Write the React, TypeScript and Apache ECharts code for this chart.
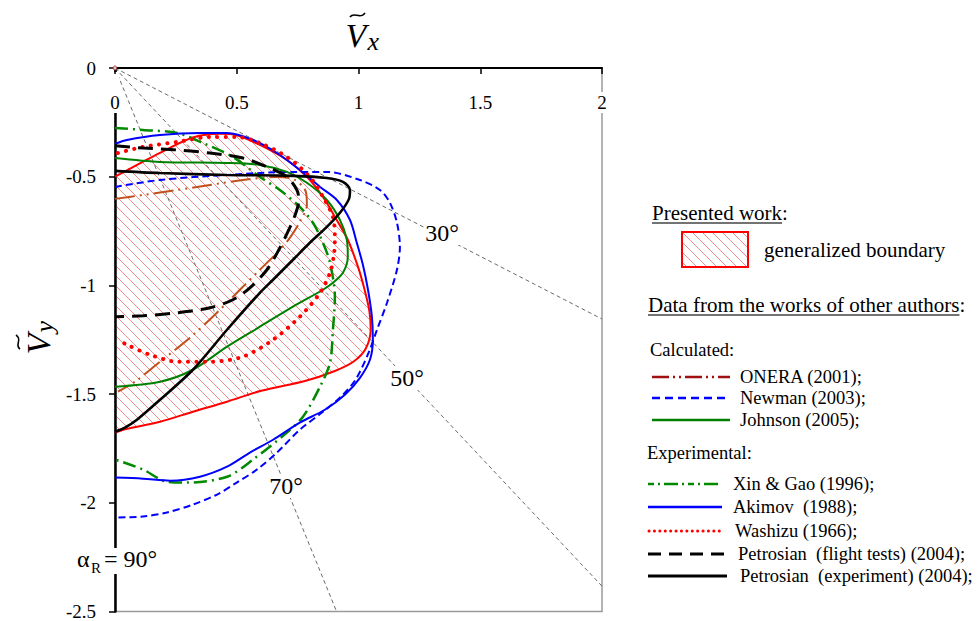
import React, { useEffect, useRef } from 'react';
import * as echarts from 'echarts';

// ---------- data ----------
const xTickValues = [0, 0.5, 1, 1.5, 2];
const yTickValues = [0, -0.5, -1, -1.5, -2, -2.5];
const rayAnglesDeg = [30, 50, 70];
const rayLabels = ['30°', '50°', '70°'];

const generalizedBoundary: number[][] = [
  [0, -0.5], [0.1, -0.44], [0.185, -0.39], [0.32, -0.32], [0.43, -0.303], [0.5, -0.31],
  [0.595, -0.354], [0.706, -0.423], [0.788, -0.5], [0.854, -0.593], [0.911, -0.7],
  [0.956, -0.79], [0.998, -0.915], [1.025, -1.02], [1.045, -1.12], [1.05, -1.2],
  [1.03, -1.29], [0.98, -1.35], [0.9, -1.395], [0.78, -1.44], [0.6, -1.485],
  [0.46, -1.535], [0.32, -1.581], [0.185, -1.627], [0.05, -1.66], [0, -1.677],
];

const onera: number[][] = [
  [0, -0.602], [0.115, -0.584], [0.255, -0.561], [0.39, -0.538], [0.525, -0.515],
  [0.665, -0.501], [0.739, -0.515], [0.784, -0.57], [0.788, -0.63], [0.759, -0.708],
  [0.718, -0.781], [0.665, -0.85], [0.595, -0.928], [0.513, -1.02], [0.41, -1.135],
  [0.308, -1.241], [0.185, -1.351], [0.082, -1.443], [0.012, -1.489],
];

const newman: number[][] = [
  [0, -0.547], [0.185, -0.515], [0.46, -0.492], [0.731, -0.478], [0.87, -0.478],
  [1.006, -0.515], [1.088, -0.561], [1.129, -0.62], [1.158, -0.712], [1.17, -0.823],
  [1.158, -0.928], [1.117, -1.08], [1.076, -1.204], [1.045, -1.3], [0.99, -1.43],
  [0.93, -1.51], [0.85, -1.585], [0.759, -1.664], [0.665, -1.769], [0.583, -1.847],
  [0.5, -1.907], [0.419, -1.962], [0.32, -2.008], [0.213, -2.045], [0.115, -2.063],
  [0, -2.068],
];

const johnson: number[][] = [
  [0, -0.414], [0.185, -0.432], [0.46, -0.437], [0.595, -0.446], [0.706, -0.478],
  [0.788, -0.528], [0.87, -0.607], [0.924, -0.699], [0.952, -0.79], [0.956, -0.869],
  [0.936, -0.942], [0.895, -0.988], [0.854, -1.02], [0.731, -1.098], [0.595, -1.19],
  [0.46, -1.282], [0.32, -1.388], [0.185, -1.443], [0, -1.466],
];

const xinGao: number[][] = [
  [0, -0.276], [0.115, -0.285], [0.255, -0.299], [0.361, -0.345], [0.484, -0.409],
  [0.595, -0.501], [0.677, -0.561], [0.759, -0.639], [0.813, -0.712], [0.854, -0.804],
  [0.883, -0.896], [0.903, -1.052], [0.895, -1.204], [0.883, -1.356], [0.842, -1.466],
  [0.772, -1.604], [0.706, -1.677], [0.567, -1.801], [0.46, -1.88], [0.296, -1.907],
  [0.213, -1.903], [0.115, -1.847], [0, -1.801],
];

const akimov: number[][] = [
  [0, -0.349], [0.049, -0.331], [0.185, -0.308], [0.349, -0.299], [0.46, -0.299],
  [0.567, -0.331], [0.665, -0.391], [0.759, -0.469], [0.842, -0.547], [0.911, -0.607],
  [0.965, -0.699], [0.993, -0.804], [1.018, -0.905], [1.039, -1.02], [1.055, -1.144],
  [1.059, -1.25], [1.047, -1.342], [1.006, -1.425], [0.944, -1.503], [0.862, -1.572],
  [0.759, -1.631], [0.649, -1.71], [0.554, -1.769], [0.46, -1.834], [0.349, -1.88],
  [0.226, -1.898], [0.115, -1.889], [0, -1.884],
];

const washizu: number[][] = [
  [0.012, -0.391], [0.115, -0.363], [0.255, -0.34], [0.39, -0.317], [0.5, -0.317],
  [0.595, -0.345], [0.706, -0.409], [0.8, -0.501], [0.854, -0.593], [0.895, -0.685],
  [0.903, -0.79], [0.899, -0.859], [0.883, -0.942], [0.842, -1.034], [0.759, -1.144],
  [0.649, -1.25], [0.525, -1.328], [0.39, -1.351], [0.255, -1.351], [0.144, -1.319],
  [0.049, -1.273], [0.02, -1.255],
];

const petrosianFlight: number[][] = [
  [0, -0.358], [0.115, -0.368], [0.255, -0.377], [0.39, -0.391], [0.525, -0.414],
  [0.624, -0.455], [0.706, -0.501], [0.747, -0.561], [0.755, -0.607], [0.743, -0.666],
  [0.714, -0.744], [0.673, -0.836], [0.624, -0.928], [0.554, -1.011], [0.484, -1.066],
  [0.39, -1.103], [0.255, -1.126], [0.115, -1.14], [0, -1.144],
];

const petrosianExperiment: number[][] = [
  [0, -0.473], [0.185, -0.483], [0.46, -0.492], [0.731, -0.496], [0.87, -0.506],
  [0.936, -0.524], [0.965, -0.561], [0.961, -0.602], [0.924, -0.666], [0.87, -0.731],
  [0.8, -0.804], [0.731, -0.882], [0.649, -0.974], [0.595, -1.034], [0.46, -1.204],
  [0.32, -1.388], [0.185, -1.526], [0.09, -1.618], [0.041, -1.654], [0, -1.673],
];

const calculatedNames = ['ONERA (2001);', 'Newman (2003);', 'Johnson (2005);'];
const experimentalNames = [
  'Xin & Gao (1996);', 'Akimov  (1988);', 'Washizu (1966);',
  'Petrosian  (flight tests) (2004);', 'Petrosian  (experiment) (2004);',
];

// ---------- styles ----------
const FONT = 'Liberation Serif, Times New Roman, serif';
const hatchSvg =
  '<svg xmlns="http://www.w3.org/2000/svg" width="10" height="10">' +
  '<path d="M-1,-1 L11,11 M9,-1 L11,1 M-1,9 L1,11" stroke="#f28b8b" stroke-width="1" fill="none"/></svg>';
const hatchUrl = 'data:image/svg+xml;charset=utf-8,' + encodeURIComponent(hatchSvg);
const hatch = { image: hatchUrl, repeat: 'repeat', imageWidth: 10, imageHeight: 10 } as any;

function measure(text: string, size: number, italic = false): number {
  const ctx = document.createElement('canvas').getContext('2d');
  if (!ctx) return text.length * size * 0.45;
  ctx.font = `${italic ? 'italic ' : ''}${size}px "Liberation Serif"`;
  return ctx.measureText(text).width;
}

export default function App() {
  const ref = useRef<HTMLDivElement>(null);

  useEffect(() => {
    if (!ref.current) return;
    const chart = echarts.init(ref.current, undefined, { renderer: 'svg' });

    const curveStyles = [
      { data: onera, color: '#c0501e', width: 2, type: [20, 5, 2, 5, 2, 5] as any, cap: 'butt' },
      { data: newman, color: '#0000ff', width: 2, type: [7, 4] as any, cap: 'butt' },
      { data: johnson, color: '#008000', width: 2, type: 'solid' as any, cap: 'butt' },
      { data: xinGao, color: '#008a00', width: 2.5, type: [13, 5, 2, 5] as any, cap: 'butt' },
      { data: akimov, color: '#0000ff', width: 2, type: 'solid' as any, cap: 'butt' },
      { data: washizu, color: '#ff0000', width: 4, type: [0.1, 8.3] as any, cap: 'round' },
      { data: petrosianFlight, color: '#000000', width: 3, type: [15, 8] as any, cap: 'butt' },
      { data: petrosianExperiment, color: '#000000', width: 2.6, type: 'solid' as any, cap: 'butt' },
    ];
    const curveNames = [...calculatedNames, ...experimentalNames];

    const raySeries = rayAnglesDeg.map((a) => {
      const t = Math.tan((a * Math.PI) / 180);
      const end = 2 * t <= 2.5 ? [2, -2 * t] : [2.5 / t, -2.5];
      return {
        type: 'line', name: 'ray ' + a, data: [[0, 0], end], symbol: 'none', z: 1, silent: true,
        lineStyle: { color: '#6b6b6b', width: 1, type: [4, 3] },
      };
    });

    const series: any[] = [
      ...raySeries,
      {
        type: 'custom', name: 'generalized boundary fill', coordinateSystem: 'cartesian2d',
        data: [[0, 0]], clip: true, z: 1, silent: true,
        renderItem: (_p: any, api: any) => ({
          type: 'polygon',
          shape: { points: generalizedBoundary.map((p) => api.coord(p)), smooth: 0.3 },
          style: { fill: hatch, stroke: 'none' },
        }),
      },
      {
        type: 'line', name: 'generalized boundary', data: generalizedBoundary, symbol: 'none',
        smooth: 0.3, z: 3, lineStyle: { color: '#ff0000', width: 2 },
      },
      ...curveStyles.map((c, i) => ({
        type: 'line', name: curveNames[i], data: c.data, symbol: 'none', smooth: 0.3, z: 4 + i,
        lineStyle: { color: c.color, width: c.width, type: c.type, cap: c.cap },
      })),
      {
        type: 'scatter', name: 'origin', data: [[0, 0]], symbol: 'circle', symbolSize: 4, clip: false, z: 20,
        itemStyle: { color: '#fff', borderColor: '#a01010', borderWidth: 1 },
      },
    ];

    // legend graphics
    const g: any[] = [];
    const txt = (x: number, y: number, text: string, size: number, extra: any = {}) => ({
      type: 'text', x, y, z: 100,
      style: { text, fill: '#000', fontSize: size, fontFamily: FONT, align: 'left', verticalAlign: 'middle', ...extra },
    });
    const ln = (x1: number, x2: number, y: number, stroke: string, lineWidth: number, lineDash: any, lineCap = 'butt') => ({
      type: 'line', z: 100, shape: { x1, y1: y, x2, y2: y },
      style: { stroke, lineWidth, lineDash, lineCap },
    });

    const HEAD = 21;
    const ENTRY = 18.5;
    const h1 = 'Presented work';
    const w1 = measure(h1, HEAD);
    g.push(txt(652, 213, h1 + ':', HEAD));
    g.push({ type: 'line', z: 100, shape: { x1: 652, y1: 223, x2: 652 + w1, y2: 223 }, style: { stroke: '#444', lineWidth: 1.5 } });
    g.push({ type: 'rect', z: 100, shape: { x: 682, y: 232, width: 66, height: 35 }, style: { fill: hatch, stroke: '#ff0000', lineWidth: 2 } });
    g.push(txt(764, 250, 'generalized boundary', HEAD));

    const h2 = 'Data from the works of other authors';
    const w2 = measure(h2, HEAD);
    g.push(txt(648, 305, h2 + ':', HEAD));
    g.push({ type: 'line', z: 100, shape: { x1: 648, y1: 315, x2: 648 + w2, y2: 315 }, style: { stroke: '#444', lineWidth: 1.5 } });

    g.push(txt(650, 350, 'Calculated:', ENTRY));
    const calcY = [377, 398, 420];
    g.push(ln(652, 730, calcY[0], '#a01010', 2.5, [17, 4, 2, 4, 2, 4]));
    g.push(ln(652, 730, calcY[1], '#0000ff', 2.5, [8, 5]));
    g.push(ln(652, 730, calcY[2], '#008000', 2.5, null));
    calculatedNames.forEach((n, i) => g.push(txt(740, calcY[i], n, ENTRY)));

    g.push(txt(647, 453, 'Experimental:', ENTRY));
    const expY = [484, 507, 531, 554, 576];
    const expTx = [733, 733, 735, 738, 740];
    g.push(ln(648, 722, expY[0], '#008a00', 2.5, [6, 4, 2, 4, 14, 4, 2, 4]));
    g.push(ln(648, 722, expY[1], '#0000ff', 2.5, null));
    g.push(ln(649, 723, expY[2], '#ff0000', 3, [0.1, 5.3], 'round'));
    g.push(ln(648, 727, expY[3], '#000000', 3, [13, 8]));
    g.push(ln(648, 727, expY[4], '#000000', 3, null));
    experimentalNames.forEach((n, i) => g.push(txt(expTx[i], expY[i], n, ENTRY)));

    // angle labels
    const rayLabelPos = [[442, 233], [407, 378], [286, 486]];
    rayLabels.forEach((t, i) =>
      g.push({
        type: 'text', x: rayLabelPos[i][0], y: rayLabelPos[i][1], z: 90,
        style: { text: t, fontSize: 24, fontFamily: FONT, fill: '#000', align: 'center', verticalAlign: 'middle', backgroundColor: '#fff', padding: [0, 1] },
      })
    );
    // alpha_R = 90°
    g.push({ type: 'rect', z: 2.5, shape: { x: 100, y: 548, width: 30, height: 26 }, style: { fill: '#fff' } });
    g.push({ type: 'text', x: 77, y: 559, z: 90, style: { text: 'α', fontSize: 24, fontFamily: FONT, fill: '#000', verticalAlign: 'middle' } });
    g.push({ type: 'text', x: 91, y: 568, z: 90, style: { text: 'R', fontSize: 15, fontFamily: FONT, fill: '#000', verticalAlign: 'middle' } });
    g.push({ type: 'text', x: 104, y: 559, z: 90, style: { text: '= 90°', fontSize: 24, fontFamily: FONT, fill: '#000', verticalAlign: 'middle' } });

    // white gap on the y axis under the x-axis "0" label
    g.push({ type: 'rect', z: 2.5, shape: { x: 112, y: 72, width: 7, height: 40 }, style: { fill: '#fff' } });

    // axis titles (V with tilde and subscript)
    const vW = measure('V', 34, true);
    g.push({ type: 'text', x: 356 - vW / 2, y: 35, z: 90, style: { text: 'V', fontSize: 34, fontStyle: 'italic', fontFamily: FONT, fill: '#000', align: 'left', verticalAlign: 'middle' } });
    g.push({ type: 'bezierCurve', z: 90, shape: { x1: 350, y1: 17, cpx1: 354, cpy1: 11, cpx2: 360, cpy2: 20, x2: 365, y2: 13 }, style: { stroke: '#000', lineWidth: 1.6, fill: 'none' } });
    g.push({ type: 'text', x: 356 + vW / 2 + 1, y: 41, z: 90, style: { text: 'x', fontSize: 26, fontStyle: 'italic', fontFamily: FONT, fill: '#000', align: 'left', verticalAlign: 'middle' } });
    g.push({
      type: 'group', x: 38, y: 344, rotation: Math.PI / 2, z: 90,
      children: [
        { type: 'text', x: -vW / 2, y: 0, style: { text: 'V', fontSize: 34, fontStyle: 'italic', fontFamily: FONT, fill: '#000', align: 'left', verticalAlign: 'middle' } },
        { type: 'bezierCurve', shape: { x1: -5, y1: -18, cpx1: -1, cpy1: -24, cpx2: 4, cpy2: -15, x2: 9, y2: -22 }, style: { stroke: '#000', lineWidth: 1.6, fill: 'none' } },
        { type: 'text', x: vW / 2 + 1, y: 6, style: { text: 'y', fontSize: 26, fontStyle: 'italic', fontFamily: FONT, fill: '#000', align: 'left', verticalAlign: 'middle' } },
      ],
    });

    chart.setOption({
      animation: false,
      backgroundColor: '#fff',
      textStyle: { fontFamily: FONT },
      grid: { left: 115, top: 68, width: 487, height: 544, show: true, borderColor: '#9a9a9a', borderWidth: 1.5, backgroundColor: 'transparent' },
      xAxis: {
        type: 'value', position: 'top', min: xTickValues[0], max: xTickValues[xTickValues.length - 1], interval: 0.5, z: 3,
        axisLine: { show: true, onZero: false, lineStyle: { color: '#000', width: 2 } },
        axisTick: { show: true, inside: true, length: 6, lineStyle: { color: '#000', width: 1.5 } },
        axisLabel: { inside: true, margin: 24, fontSize: 19, color: '#000', fontFamily: FONT, backgroundColor: '#fff', padding: [1, 2] },
        splitLine: { show: false },
      },
      yAxis: {
        type: 'value', min: yTickValues[yTickValues.length - 1], max: yTickValues[0], interval: 0.5, z: 2,
        axisLine: { show: true, onZero: false, lineStyle: { color: '#000', width: 2.5 } },
        axisTick: { show: true, length: 6, lineStyle: { color: '#000', width: 1.5 } },
        axisLabel: { margin: 19, fontSize: 19, color: '#000', fontFamily: FONT },
        splitLine: { show: false },
      },
      series,
      graphic: g,
    });

    return () => chart.dispose();
  }, []);

  return <div ref={ref} style={{ position: 'absolute', left: 0, top: 0, width: 979, height: 621 }} />;
}
